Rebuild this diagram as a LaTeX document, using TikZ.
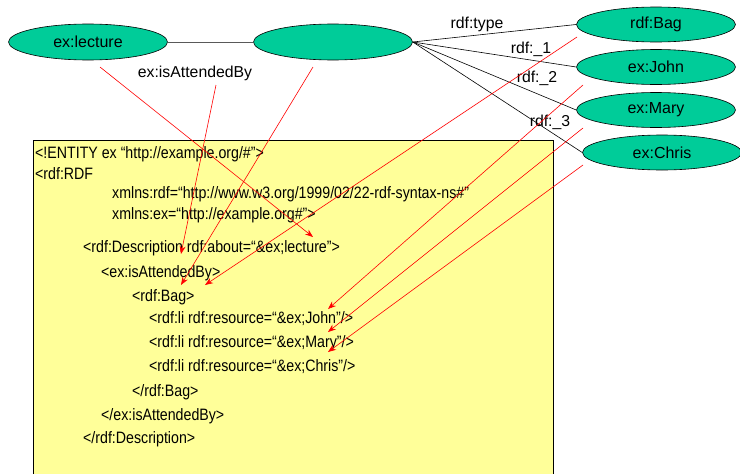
\documentclass[tikz,border=0pt]{standalone}
\usepackage{fontspec}
\setmainfont{Liberation Sans}
\newfontfamily\narrowfont{Liberation Sans}[FakeStretch=0.86]
\usetikzlibrary{shapes.geometric,arrows.meta}
\definecolor{nodegreen}{RGB}{0,204,153}
\definecolor{boxyellow}{RGB}{255,255,153}
\begin{document}
\begin{tikzpicture}[x=1pt,y=-1pt,
  ell/.style={ellipse, draw=black, line width=0.6pt, fill=nodegreen, minimum width=159pt, minimum height=36pt, inner sep=0pt, font=\fontsize{16}{18}\selectfont},
  lbl/.style={anchor=base, inner sep=0pt, font=\fontsize{15.8}{18}\selectfont},
  code/.style={anchor=base west, inner sep=0pt, font=\narrowfont\fontsize{16.5}{18}\selectfont},
  blk/.style={draw=black, line width=0.6pt},
  redarr/.style={draw=red, line width=0.6pt, -{Stealth[length=8pt,width=6pt]}},
  codebox/.style={draw=black, line width=0.8pt, fill=boxyellow, anchor=north west, minimum width=520pt, minimum height=345pt, inner sep=0pt}
]
\useasboundingbox (0,0) rectangle (740,474);
\clip (0,0) rectangle (740,474);

% code box
\node[codebox] (box) at (33,140) {};
\node[code] (l1) at (35,158.5) {<!ENTITY ex “http://example.org/\#”>};
\node[code] (l2) at (35,179) {<rdf:RDF};
\node[code] (l3) at (112,198.5) {xmlns:rdf=“http://www.w3.org/1999/02/22-rdf-syntax-ns\#”};
\node[code] (l4) at (112,219) {xmlns:ex=“http://example.org\#”>};
\node[code] (l5) at (83,252) {<rdf:Description rdf:about=“\&ex;lecture”>};
\node[code] (l6) at (101,277) {<ex:isAttendedBy>};
\node[code] (l7) at (132,301) {<rdf:Bag>};
\node[code] (l8) at (149,323) {<rdf:li rdf:resource=“\&ex;John”/>};
\node[code] (l9) at (149,347) {<rdf:li rdf:resource=“\&ex;Mary”/>};
\node[code] (l10) at (149,371) {<rdf:li rdf:resource=“\&ex;Chris”/>};
\node[code] (l11) at (132,396) {</rdf:Bag>};
\node[code] (l12) at (101,420) {</ex:isAttendedBy>};
\node[code] (l13) at (83,443) {</rdf:Description>};

% graph nodes
\node[ell] (lecture) at (88,42) {ex:lecture};
\node[ell] (blank) at (333,42) {};
\node[ell, minimum height=35pt] (bag) at (656,24.5) {rdf:Bag};
\node[ell, minimum height=35pt] (john) at (656,67) {ex:John};
\node[ell, minimum height=35pt] (mary) at (656,110) {ex:Mary};
\node[ell, minimum height=35pt] (chris) at (662,152.5) {ex:Chris};

% graph edges
\draw[draw=black!65, line width=1pt] (lecture.east) -- (blank.west);
\draw[blk] (blank.east) -- (bag.west);
\draw[blk] (blank.east) -- (john.west);
\draw[blk] (blank.east) -- (mary.west);
\draw[blk] (blank.east) -- (chris.west);

% edge labels
\node[lbl] (lisatt) at (195,77) {ex:isAttendedBy};
\node[lbl] (ltype) at (477,28) {rdf:type};
\node[lbl] (l_1) at (531,53) {rdf:\_1};
\node[lbl] (l_2) at (537,82) {rdf:\_2};
\node[lbl] (l_3) at (550,126) {rdf:\_3};

% red arrow endpoints
\coordinate (s1) at (100,67);
\coordinate (t1) at (313,237);
\coordinate (s2) at (216,85);
\coordinate (t2) at (181,254);
\coordinate (s3) at (313,67);
\coordinate (t3) at (181,285);
\coordinate (s4) at (577,37);
\coordinate (t4) at (205,285);
\coordinate (s5) at (583,85);
\coordinate (t5) at (328,309);
\coordinate (s6) at (583,128);
\coordinate (t6) at (328,332);
\coordinate (s7) at (583,165);
\coordinate (t7) at (328,352);

\draw[redarr] (s1) -- (t1);
\draw[redarr] (s2) -- (t2);
\draw[redarr] (s3) -- (t3);
\draw[redarr] (s4) -- (t4);
\draw[redarr] (s5) -- (t5);
\draw[redarr] (s6) -- (t6);
\draw[redarr] (s7) -- (t7);
\end{tikzpicture}
\end{document}
